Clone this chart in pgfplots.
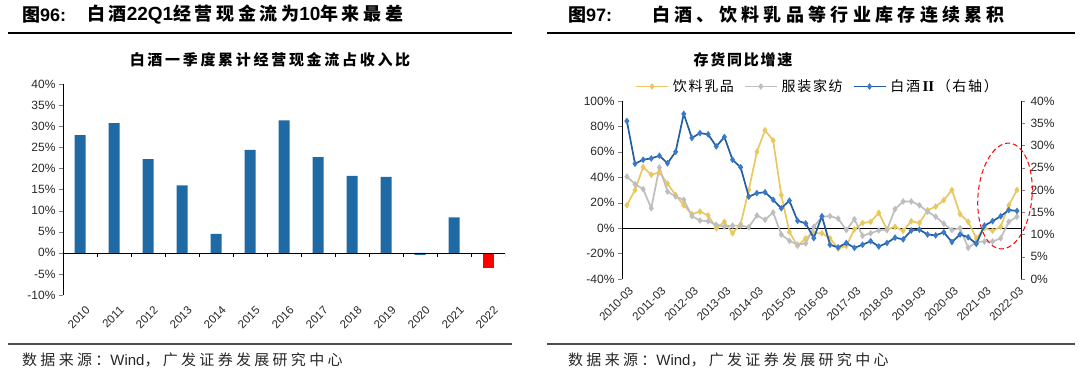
\documentclass[border=0pt]{standalone}
\usepackage{pgfplots}
\pgfplotsset{compat=1.18}
\usepackage{fontspec}
\setmainfont{Liberation Sans}
\newfontfamily\cjk{Noto Sans CJK SC}
\newfontfamily\serifb{Liberation Serif}
\newfontfamily\cjksp{Noto Sans CJK SC}[LetterSpace=12]
\newfontfamily\cjkt{Noto Sans CJK SC}[LetterSpace=18]
\newfontfamily\cjksrc{Noto Sans CJK SC}[LetterSpace=22]
\newfontfamily\cjkha{Noto Sans CJK SC}[LetterSpace=20]
\newfontfamily\cjkhb{Noto Sans CJK SC}[LetterSpace=24]
\definecolor{barblue}{RGB}{31,106,165}
\definecolor{yel}{RGB}{233,200,95}
\definecolor{gry}{RGB}{190,190,190}
\definecolor{blu}{RGB}{34,94,164}
\definecolor{blumk}{RGB}{60,120,200}
\definecolor{txt}{RGB}{40,40,40}
\begin{document}
\begin{tikzpicture}
\path[use as bounding box] (0pt,0pt) rectangle (1080pt,376pt);
% headers
\node[anchor=west,inner sep=0pt] at (22pt,361pt) {\fontsize{18}{18}\selectfont{\cjk\bfseries 图}\bfseries 96:};
\node[anchor=west,inner sep=0pt] at (87pt,361pt) {\fontsize{18}{18}\selectfont{\cjkha\bfseries 白酒}{\bfseries\fontsize{19}{19}\selectfont 22Q1}{\cjkha\bfseries 经营现金流为}{\bfseries\fontsize{19}{19}\selectfont 10}{\cjkha\bfseries 年来最差}};
\node[anchor=west,inner sep=0pt] at (568pt,361pt) {\fontsize{18}{18}\selectfont{\cjk\bfseries 图}\bfseries 97:};
\node[anchor=west,inner sep=0pt] at (652pt,361pt) {\cjkhb\bfseries\fontsize{18}{18}\selectfont 白酒、饮料乳品等行业库存连续累积};
\draw[line width=1.2pt] (8pt,343pt) -- (512pt,343pt);
\draw[line width=1.2pt] (547pt,343pt) -- (1075pt,343pt);
\draw[line width=1.2pt,black!70] (8pt,32pt) -- (512pt,32pt);
\draw[line width=1.2pt,black!70] (547pt,32pt) -- (1075pt,32pt);
\node[anchor=west,inner sep=0pt,text=txt] at (22pt,16pt) {\fontsize{15}{15}\selectfont{\cjksrc 数据来源：}Wind{\cjksrc ，广发证券发展研究中心}};
\node[anchor=west,inner sep=0pt,text=txt] at (568pt,16pt) {\fontsize{15}{15}\selectfont{\cjksrc 数据来源：}Wind{\cjksrc ，广发证券发展研究中心}};
% chart titles
\node[inner sep=0pt] at (270pt,316pt) {\cjkt\bfseries\fontsize{15}{15}\selectfont 白酒一季度累计经营现金流占收入比};
\node[inner sep=0pt] at (743pt,316pt) {\cjksp\bfseries\fontsize{15}{15}\selectfont 存货同比增速};

% left chart
\begin{axis}[
  at={(63pt,81pt)}, anchor=south west,
  width=442pt, height=211pt, scale only axis,
  xmin=-0.5, xmax=12.5, ymin=-10, ymax=40,
  axis y line=left, axis x line*=bottom,
  axis line style={-}, x axis line style={draw=none},
  ytick={-10,-5,...,40},
  yticklabel={\pgfmathprintnumber{\tick}\%},
  /pgf/number format/assume math mode=true,
  yticklabel style={font=\fontsize{12}{12}\selectfont, text=txt},
  xtick={0,...,12},
  xticklabels={2010,2011,2012,2013,2014,2015,2016,2017,2018,2019,2020,2021,2022},
  x tick style={draw=none},
  xticklabel style={rotate=45, anchor=north east, font=\fontsize{11.5}{11.5}\selectfont, text=txt, inner sep=1pt, yshift=-7pt},
  tick align=outside, major tick length=4pt,
  ybar, bar width=11pt,
]
\addplot[fill=barblue, draw=none, bar shift=0pt] coordinates {
(0,27.9)(1,30.7)(2,22.2)(3,16.0)(4,4.5)(5,24.4)(6,31.4)(7,22.7)(8,18.2)(9,18.0)(10,-0.5)(11,8.4)};
\addplot[fill=red, draw=none, bar shift=0pt] coordinates {(12,-3.5)};
\draw (axis cs:-0.5,0) -- (axis cs:12.5,0);
\pgfplotsinvokeforeach{0.5,1.5,...,12.5}{\draw (axis cs:#1,0) -- ++(0pt,-4pt);}
\end{axis}

% right chart, left axis
\begin{axis}[
  at={(622pt,97pt)}, anchor=south west,
  width=399pt, height=178pt, scale only axis,
  xmin=-0.6, xmax=48.5, ymin=-40, ymax=100,
  axis y line=left, axis x line*=bottom,
  axis line style={-}, x axis line style={draw=none},
  ytick={-40,-20,...,100},
  yticklabel={\pgfmathprintnumber{\tick}\%},
  /pgf/number format/assume math mode=true,
  yticklabel style={font=\fontsize{12}{12}\selectfont, text=txt},
  xtick={0,4,...,48},
  xticklabels={2010-03,2011-03,2012-03,2013-03,2014-03,2015-03,2016-03,2017-03,2018-03,2019-03,2020-03,2021-03,2022-03},
  x tick style={draw=none},
  xticklabel style={rotate=45, anchor=north east, font=\fontsize{11.5}{11.5}\selectfont, text=txt, inner sep=1pt, yshift=-2pt},
  tick align=outside, major tick length=4pt,
  legend columns=3,
  legend style={at={(0.49,1.02)}, anchor=south, draw=none, fill=none, font=\cjksp\fontsize{14}{14}\selectfont,
    /tikz/every even column/.append style={column sep=8pt},
    /tikz/every odd column/.append style={column sep=2pt}},
  legend image code/.code={\draw[#1,mark repeat=2,mark phase=2] plot coordinates {(0pt,0pt) (16pt,0pt) (32pt,0pt)};},
]
\draw (axis cs:-0.6,0) -- (axis cs:48.5,0);
\addplot[yel, line width=1.7pt, mark=diamond*, mark size=2pt, mark options={fill=yel,draw=yel}] coordinates {
(0,18)(1,30)(2,48)(3,42)(4,44)(5,35)(6,26)(7,18)(8,11)(9,13)(10,10)(11,0)(12,5)(13,-4)(14,3)(15,30)(16,60)(17,77)(18,69)(19,26)(20,-3)(21,-14)(22,-8)(23,-4)(24,-4)(25,-8)(26,-16)(27,-14)(28,-1)(29,4)(30,5)(31,12)(32,-1)(33,1)(34,-2)(35,5.5)(36,4)(37,14)(38,17)(39,22)(40,30)(41,11)(42,5)(43,-8)(44,0)(45,-2)(46,1)(47,18)(48,30)};
\addlegendentry{饮料乳品}
\addplot[gry, line width=1.7pt, mark=diamond*, mark size=2pt, mark options={fill=gry,draw=gry}] coordinates {
(0,40.6)(1,34.6)(2,30.7)(3,15.7)(4,47.7)(5,28.8)(6,24.9)(7,22.3)(8,9.5)(9,6)(10,5.5)(11,2.6)(12,1.3)(13,2)(14,2)(15,0.8)(16,10)(17,6.6)(18,12.4)(19,-5)(20,-10)(21,-13)(22,-12)(23,1)(24,9)(25,9.5)(26,7.5)(27,-1.5)(28,7)(29,-6)(30,-4)(31,-1.8)(32,-1.5)(33,15)(34,21)(35,21)(36,18)(37,13)(38,9)(39,3.5)(40,-1.5)(41,0)(42,-15.5)(43,-11)(44,-10.5)(45,-10.5)(46,-8)(47,5)(48,9)};
\addlegendentry{服装家纺}
\addlegendimage{blu, line width=1.7pt, mark=diamond*, mark size=2pt, mark options={fill=blumk,draw=blumk}}
\addlegendentry{白酒{\serifb\bfseries\fontsize{15}{15}\selectfont\,II\,}（右轴）}
\end{axis}

% right chart, right axis
\begin{axis}[
  at={(622pt,97pt)}, anchor=south west,
  width=399pt, height=178pt, scale only axis,
  xmin=-0.6, xmax=48.5, ymin=0, ymax=40,
  axis y line=right, axis x line=none,
  axis line style={-},
  xtick=\empty,
  ytick={0,5,...,40},
  yticklabel={\pgfmathprintnumber{\tick}\%},
  /pgf/number format/assume math mode=true,
  yticklabel style={font=\fontsize{12}{12}\selectfont, text=txt, xshift=2pt},
  tick align=outside, major tick length=4pt,
]
\addplot[blu, line width=1.7pt, mark=diamond*, mark size=2pt, mark options={fill=blumk,draw=blumk}] coordinates {
(0,35.5)(1,25.9)(2,26.8)(3,27.1)(4,27.7)(5,26.0)(6,28.6)(7,37.1)(8,31.7)(9,32.8)(10,32.5)(11,29.8)(12,31.9)(13,26.8)(14,25.1)(15,18.5)(16,19.3)(17,19.5)(18,17.8)(19,15.9)(20,17.6)(21,13.1)(22,12.5)(23,9.2)(24,14.1)(25,7.7)(26,7.1)(27,8.1)(28,7.0)(29,7.7)(30,8.5)(31,7.3)(32,8.1)(33,9.3)(34,8.9)(35,10.9)(36,11.1)(37,10.0)(38,9.8)(39,10.5)(40,8.3)(41,10.0)(42,9.4)(43,7.9)(44,12.0)(45,13.0)(46,14.1)(47,15.5)(48,15.3)};
\end{axis}
\draw[red, line width=1pt, dash pattern=on 5pt off 3pt, rotate around={-5:(1005pt,180pt)}] (1005pt,180pt) ellipse [x radius=27pt, y radius=53pt];
\end{tikzpicture}
\end{document}
